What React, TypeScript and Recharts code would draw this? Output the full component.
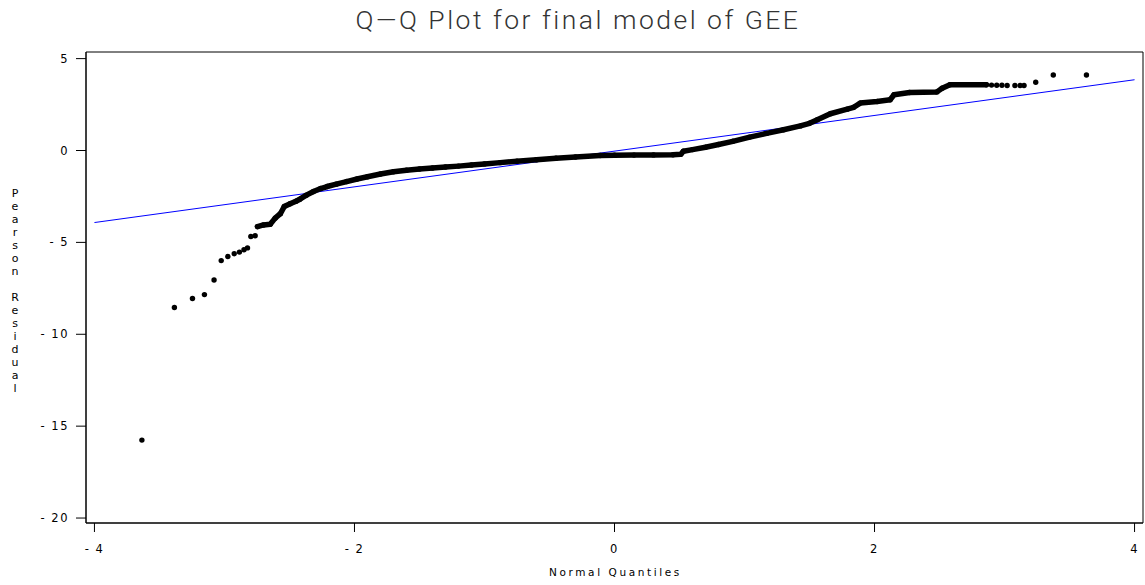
import React from "react";
import {
  ScatterChart,
  Scatter,
  XAxis,
  YAxis,
  ReferenceLine,
  ReferenceArea,
  Label,
} from "recharts";

// ---- data ----
const TITLE = "Q\u2014Q Plot for final model of GEE";
const X_LABEL = "Normal Quantiles";
const Y_LABEL = "Pearson Residual";

const xTicks = [-4, -2, 0, 2, 4];
const yTicks = [5, 0, -5, -10, -15, -20];
const xDomain = [-4.065, 4.065];
const yDomain = [-20.27, 5.36];

// isolated points in the lower tail
const lowTailX = [-3.635, -3.385, -3.246, -3.154, -3.08, -3.025, -2.974, -2.925, -2.885, -2.85, -2.823, -2.797, -2.764];
const lowTailY = [-15.76, -8.54, -8.05, -7.84, -7.05, -5.99, -5.77, -5.62, -5.53, -5.4, -5.3, -4.68, -4.64];

// densely packed body of the Q-Q plot
const bodyX = [
  -2.746, -2.7, -2.648, -2.61, -2.57, -2.54, -2.495, -2.45, -2.42, -2.37, -2.315, -2.26, -2.21, -2.14, -2.06,
  -1.98, -1.9, -1.8, -1.7, -1.6, -1.5, -1.4, -1.3, -1.2, -1.1, -1.0, -0.88, -0.75, -0.6, -0.45, -0.3, -0.11,
  0.0, 0.15, 0.3, 0.45, 0.51, 0.53, 0.6, 0.7, 0.8, 0.91, 1.04, 1.17, 1.3, 1.43, 1.5, 1.56, 1.66, 1.79, 1.84,
  1.89, 2.02, 2.12, 2.15, 2.27, 2.48, 2.52, 2.58, 2.86,
];
const bodyY = [
  -4.14, -4.05, -4.01, -3.68, -3.44, -3.05, -2.9, -2.76, -2.65, -2.43, -2.23, -2.07, -1.96, -1.83, -1.69,
  -1.55, -1.43, -1.28, -1.16, -1.07, -1.01, -0.95, -0.9, -0.85, -0.79, -0.73, -0.66, -0.58, -0.5, -0.42, -0.35, -0.27,
  -0.26, -0.25, -0.24, -0.23, -0.21, -0.04, 0.05, 0.18, 0.33, 0.5, 0.73, 0.93, 1.13, 1.34, 1.48, 1.67, 2.0, 2.25, 2.35,
  2.58, 2.67, 2.76, 3.03, 3.16, 3.19, 3.39, 3.58, 3.58,
];

// isolated points in the upper tail
const highTailX = [2.9, 2.94, 2.98, 3.02, 3.08, 3.12, 3.15, 3.24, 3.375, 3.63];
const highTailY = [3.56, 3.55, 3.55, 3.54, 3.54, 3.54, 3.54, 3.71, 4.11, 4.11];

// fitted reference line endpoints
const fitX = [-4, 4];
const fitY = [-3.92, 3.85];

const zip = (xs: number[], ys: number[]) => xs.map((x, i) => ({ x, y: ys[i] }));
const lowTail = zip(lowTailX, lowTailY);
const body = zip(bodyX, bodyY);
const highTail = zip(highTailX, highTailY);
const fitSegment = zip(fitX, fitY);

const fmt = (v: number) => (v < 0 ? `- ${Math.abs(v)}` : `${v}`);

const tickFont = { fontFamily: "DejaVu Sans, sans-serif", fontSize: 11.5, fill: "#000", letterSpacing: 1.5 };

const Dot = (p: any) => <circle cx={p.cx} cy={p.cy} r={2.7} fill="#000" />;

const YLabelContent = () => {
  const chars = Y_LABEL.split("");
  return (
    <text
      fontFamily="DejaVu Sans, sans-serif"
      fontSize={11}
      fill="#000"
      style={{ fill: "#000" }}
      textAnchor="middle"
    >
      {chars.map((c, i) => (
        <tspan key={i} x={15} y={197 + i * 13} fill="#000">
          {c === " " ? "\u00a0" : c}
        </tspan>
      ))}
    </text>
  );
};

const XLabelContent = (props: any) => {
  const vb = props.viewBox || {};
  return (
    <text
      x={vb.x + vb.width / 2 + 1}
      y={576}
      textAnchor="middle"
      fontFamily="DejaVu Sans, sans-serif"
      fontSize={10.5}
      letterSpacing={2.6}
      fill="#000"
      style={{ fill: "#000" }}
    >
      {X_LABEL}
    </text>
  );
};

export default function App() {
  return (
    <div style={{ position: "absolute", left: 0, top: 0, width: 1145, height: 585, background: "#fff" }}>
      <svg width={1145} height={40} style={{ position: "absolute", left: 0, top: 0 }}>
        <text
          x={578}
          y={29}
          textAnchor="middle"
          fontFamily="Roboto, DejaVu Sans, sans-serif"
          fontWeight={300}
          fontSize={26.5}
          letterSpacing={2.5}
          fill="#333"
        >
          {TITLE}
        </text>
      </svg>
      <div style={{ position: "absolute", left: 0, top: 0 }}>
        <ScatterChart width={1145} height={585} margin={{ top: 52, right: 2, bottom: 0, left: 0 }}>
          <XAxis
            type="number"
            dataKey="x"
            domain={xDomain}
            ticks={xTicks}
            allowDataOverflow
            height={62}
            tickSize={9}
            tickMargin={13}
            tickFormatter={fmt}
            tick={tickFont}
            axisLine={{ stroke: "#000" }}
            tickLine={{ stroke: "#000" }}
          >
            <Label content={XLabelContent} />
          </XAxis>
          <YAxis
            type="number"
            dataKey="y"
            domain={yDomain}
            ticks={yTicks}
            allowDataOverflow
            width={86}
            tickSize={10}
            tickMargin={7}
            tickFormatter={fmt}
            tick={tickFont}
            axisLine={{ stroke: "#000" }}
            tickLine={{ stroke: "#000" }}
          >
            <Label content={YLabelContent} />
          </YAxis>
          <ReferenceArea
            x1={xDomain[0]}
            x2={xDomain[1]}
            y1={yDomain[0]}
            y2={yDomain[1]}
            fill="none"
            stroke="#000"
            strokeWidth={1}
          />
          <Scatter data={lowTail} fill="#000" shape={Dot} isAnimationActive={false} />
          <Scatter
            data={body}
            fill="#000"
            shape={Dot}
            line={{ stroke: "#000", strokeWidth: 5.5, strokeLinejoin: "round", strokeLinecap: "round" }}
            lineType="joint"
            isAnimationActive={false}
          />
          <Scatter data={highTail} fill="#000" shape={Dot} isAnimationActive={false} />
          <ReferenceLine segment={fitSegment} stroke="#0000ff" strokeWidth={1} />
        </ScatterChart>
      </div>
    </div>
  );
}
